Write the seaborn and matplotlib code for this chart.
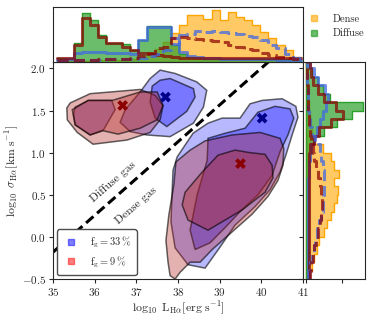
import numpy as np
import pandas as pd
import matplotlib
matplotlib.use("Agg")
import matplotlib.pyplot as plt
from matplotlib.lines import Line2D
from matplotlib.colors import to_rgba
import seaborn as sns


# marginal histogram bins
lum_range = (35.1, 40.95)
lum_nbins = 30
sig_range = (-0.5, 2.1)
sig_nbins = 26
lum_edges = np.linspace(lum_range[0], lum_range[1], lum_nbins + 1)
lum_centers = 0.5 * (lum_edges[1:] + lum_edges[:-1])
sig_edges = np.linspace(sig_range[0], sig_range[1], sig_nbins + 1)
sig_centers = 0.5 * (sig_edges[1:] + sig_edges[:-1])

# top panel (luminosity) counts, arbitrary units
top_dense_all = [1, 1, 1, 1, 1, 2, 2, 2, 3, 3, 5, 9, 13, 20, 29, 37, 47, 47, 43, 52, 42, 50, 45, 42, 37, 30, 24, 17, 12, 5]
top_diffuse_all = [4, 4, 19, 49, 42, 27, 19, 19, 18, 12, 22, 36, 36, 36, 17, 8, 5, 4, 3, 3, 3, 3, 3, 3, 3, 3, 3, 3, 3, 2]
top_diffuse_33 = [2, 3, 9, 10, 10, 10, 9, 9, 9, 8, 22, 35, 35, 35, 24, 10, 6, 5, 4, 4, 3, 3, 3, 3, 3, 3, 3, 2, 2, 2]
top_diffuse_9 = [4, 4, 17, 44, 37, 25, 19, 19, 15, 12, 9, 8, 7, 6, 5, 4, 4, 4, 4, 4, 4, 4, 4, 4, 4, 4, 4, 4, 4, 4]
top_dense_33 = [2, 2, 2, 2, 2, 2, 3, 3, 3, 3, 4, 6, 8, 12, 18, 27, 28, 31, 30, 31, 30, 29, 28, 26, 25, 22, 17, 14, 8, 4]
top_dense_9 = [2, 2, 2, 2, 2, 3, 3, 3, 3, 4, 6, 9, 14, 15, 24, 25, 24, 23, 22, 21, 20, 17, 15, 13, 12, 9, 7, 5, 4, 3]

# right panel (velocity dispersion) counts
rt_dense_all = [4, 6, 9, 12, 14, 19, 22, 26, 29, 32, 33, 29, 34, 29, 26, 18, 10, 6, 5, 4, 3, 2, 2, 1, 1, 0]
rt_diffuse_all = [3, 3, 3, 3, 3, 3, 3, 3, 3, 3, 3, 3, 3, 3, 4, 5, 9, 19, 32, 48, 59, 25, 18, 13, 6, 3]
rt_diffuse_33 = [2, 2, 2, 2, 2, 2, 2, 2, 2, 2, 2, 2, 3, 3, 4, 5, 8, 12, 15, 18, 21, 23, 20, 13, 8, 4]
rt_diffuse_9 = [3, 3, 3, 3, 3, 3, 3, 3, 3, 3, 3, 3, 3, 3, 3, 4, 9, 14, 26, 38, 31, 19, 13, 7, 5, 4]
rt_dense_33 = [3, 4, 6, 8, 10, 12, 14, 16, 18, 18, 19, 19, 19, 18, 16, 15, 10, 6, 4, 3, 2, 2, 2, 1, 1, 1]
rt_dense_9 = [4, 5, 7, 9, 11, 13, 15, 16, 17, 17, 16, 15, 13, 11, 9, 7, 5, 4, 3, 3, 2, 2, 2, 1, 1, 1]

# density contours (outer / inner level)
diff33_outer_x = [37.57, 37.93, 38.45, 38.69, 38.61, 38.37, 37.81, 37.25, 36.85, 36.61, 36.73, 37.09, 37.33]
diff33_outer_y = [1.98, 1.94, 1.84, 1.74, 1.54, 1.35, 1.19, 1.21, 1.25, 1.36, 1.51, 1.72, 1.88]
diff33_lobe_x = [35.53, 35.85, 36.41, 36.49, 36.21, 35.89, 35.53, 35.49]
diff33_lobe_y = [1.54, 1.62, 1.62, 1.51, 1.27, 1.21, 1.33, 1.45]
diff33_inner_x = [37.38, 37.57, 37.81, 38.37, 38.41, 38.21, 37.73, 37.45, 37.33]
diff33_inner_y = [1.79, 1.86, 1.88, 1.76, 1.66, 1.49, 1.31, 1.41, 1.60]
diff9_outer_x = [35.33, 35.41, 35.89, 37.09, 37.45, 37.64, 37.57, 37.33, 36.78, 35.96, 35.58, 35.34]
diff9_outer_y = [1.53, 1.59, 1.70, 1.75, 1.68, 1.56, 1.39, 1.24, 1.15, 1.10, 1.24, 1.39]
diff9_inner_x = [35.46, 35.84, 36.42, 37.09, 37.50, 37.64, 37.50, 37.09, 36.56, 36.20, 35.89, 35.53]
diff9_inner_y = [1.51, 1.62, 1.62, 1.72, 1.72, 1.56, 1.39, 1.29, 1.22, 1.26, 1.21, 1.33]

dens33_outer_x = [37.88, 37.98, 38.36, 38.72, 39.06, 39.49, 39.73, 40.02, 40.50, 40.83, 40.88, 40.74, 40.59, 40.45,
                  40.21, 39.85, 39.37, 39.01, 38.65, 38.24, 37.93, 37.83]
dens33_outer_y = [0.79, 0.95, 1.23, 1.35, 1.41, 1.41, 1.58, 1.62, 1.64, 1.55, 1.42, 1.21, 0.97, 0.77,
                  0.56, 0.36, 0.14, -0.12, -0.37, -0.33, -0.13, 0.18]
dens33_inner_x = [38.70, 38.72, 39.13, 39.61, 39.92, 40.33, 40.69, 40.78, 40.64, 40.45, 40.26, 39.92, 39.49, 39.13,
                  38.77, 38.41, 38.29, 38.46]
dens33_inner_y = [0.91, 1.17, 1.23, 1.29, 1.48, 1.55, 1.52, 1.41, 1.21, 1.01, 0.73, 0.50, 0.30, 0.11,
                  -0.07, -0.15, 0.08, 0.50]
dens9_outer_x = [37.95, 38.29, 38.65, 39.30, 39.97, 40.45, 40.54, 40.52, 40.40, 40.16, 39.78, 39.30, 38.82, 38.53,
                 38.29, 38.05, 37.93, 37.81, 37.76, 37.71, 37.78, 37.90]
dens9_outer_y = [0.89, 1.03, 1.14, 1.21, 1.24, 1.17, 1.05, 0.85, 0.67, 0.48, 0.27, 0.06, -0.15, -0.30,
                 -0.30, -0.42, -0.50, -0.46, -0.30, -0.04, 0.26, 0.62]
dens9_inner_x = [38.17, 38.58, 38.96, 39.37, 39.73, 40.09, 40.26, 40.28, 40.09, 39.54, 38.72, 38.24, 38.10]
dens9_inner_y = [0.53, 0.77, 0.97, 1.03, 1.00, 0.98, 0.85, 0.70, 0.53, 0.32, 0.08, 0.20, 0.38]

# density peaks
peak_lum = [37.70, 36.67, 40.02, 39.50]
peak_sig = [1.66, 1.56, 1.41, 0.87]
peak_run = ["33", "9", "33", "9"]

# dense / diffuse dividing line
divide_x = [35.0, 40.2]
divide_y = [-0.18, 2.09]

blue = "blue"
red = "firebrick"


sns.set_style("ticks")
plt.rcParams["font.family"] = "serif"
plt.rcParams["font.serif"] = ["cmr10"]
plt.rcParams["mathtext.fontset"] = "cm"
plt.rcParams["axes.formatter.use_mathtext"] = True

fig = plt.figure(figsize=(3.74, 3.2), dpi=100)
ax = fig.add_axes([0.142, 0.128, 0.668, 0.678])
ax_top = fig.add_axes([0.142, 0.806, 0.668, 0.172])
ax_right = fig.add_axes([0.811, 0.128, 0.165, 0.678])


# contours
def region(xs, ys, color, alpha):
    ax.fill(xs, ys, facecolor=to_rgba(color, alpha), edgecolor=(0, 0, 0, 0.6), lw=1.1)


region(dens33_outer_x, dens33_outer_y, blue, 0.28)
region(dens33_inner_x, dens33_inner_y, blue, 0.35)
region(dens9_outer_x, dens9_outer_y, red, 0.35)
region(dens9_inner_x, dens9_inner_y, red, 0.36)
region(diff33_outer_x, diff33_outer_y, blue, 0.28)
region(diff33_lobe_x, diff33_lobe_y, blue, 0.28)
region(diff33_inner_x, diff33_inner_y, blue, 0.35)
region(diff9_outer_x, diff9_outer_y, red, 0.35)
region(diff9_inner_x, diff9_inner_y, red, 0.36)

peaks = pd.DataFrame({"lum": peak_lum, "sig": peak_sig, "run": peak_run})
sns.scatterplot(data=peaks, x="lum", y="sig", hue="run", palette={"33": "darkblue", "9": "darkred"},
                marker="X", s=60, linewidth=0, legend=False, ax=ax, zorder=5)

ax.plot(divide_x, divide_y, color="k", lw=2.2, ls=(0, (3.2, 1.6)))
ax.text(36.43, 0.655, "Diffuse gas", rotation=41, ha="center", va="center", fontsize=8.5)
ax.text(36.99, 0.37, "Dense gas", rotation=41, ha="center", va="center", fontsize=8.5)

ax.set_xlim(35, 41)
ax.set_ylim(-0.5, 2.075)
ax.set_xticks([35, 36, 37, 38, 39, 40, 41])
ax.set_yticks([-0.5, 0.0, 0.5, 1.0, 1.5, 2.0])
ax.tick_params(labelsize=8, length=3, pad=2)
ax.set_xlabel(r"$\log_{10}\ \mathrm{L_{H\alpha}[erg\ s^{-1}]}$", fontsize=8.5, labelpad=1)
ax.set_ylabel(r"$\log_{10}\ \sigma_{\mathrm{H\alpha}}[\mathrm{km\ s^{-1}}]$", fontsize=8.5, labelpad=1)

handles = [Line2D([], [], marker="s", ls="", color=blue, alpha=0.5, ms=4.5),
           Line2D([], [], marker="s", ls="", color="red", alpha=0.5, ms=4.5)]
ax.legend(handles, [r"$\mathrm{f_g} = 33\,\%$", r"$\mathrm{f_g} = 9\,\%$"], loc="lower left",
          fontsize=7.5, handletextpad=1.0, handlelength=1.6, borderpad=0.5, labelspacing=0.4,
          borderaxespad=0.4, frameon=True, edgecolor="0.3", framealpha=1, fancybox=True)


# marginals
def hist_top(vals, color, fill, alpha, ls="-", lw=1.0):
    df = pd.DataFrame({"lum": lum_centers, "w": vals})
    sns.histplot(data=df, x="lum", weights="w", bins=lum_nbins, binrange=lum_range, element="step",
                 fill=fill, color=color, alpha=alpha, linestyle=ls, linewidth=lw, ax=ax_top)


def hist_right(vals, color, fill, alpha, ls="-", lw=1.0):
    df = pd.DataFrame({"sig": sig_centers, "w": vals})
    sns.histplot(data=df, y="sig", weights="w", bins=sig_nbins, binrange=sig_range, element="step",
                 fill=fill, color=color, alpha=alpha, linestyle=ls, linewidth=lw, ax=ax_right)


hist_top(top_dense_all, "orange", True, 0.6)
hist_top(top_diffuse_all, "tab:green", True, 0.7)
hist_top(top_diffuse_33, "royalblue", False, 0.75, lw=2.2)
hist_top(top_diffuse_9, "darkred", False, 0.7, lw=2.2)
hist_top(top_dense_33, "royalblue", False, 0.75, ls="--", lw=2.2)
hist_top(top_dense_9, "darkred", False, 0.7, ls="--", lw=2.2)

hist_right(rt_dense_all, "orange", True, 0.6)
hist_right(rt_diffuse_all, "tab:green", True, 0.7)
hist_right(rt_diffuse_33, "royalblue", False, 0.75, lw=2.2)
hist_right(rt_diffuse_9, "darkred", False, 0.7, lw=2.2)
hist_right(rt_dense_33, "royalblue", False, 0.75, ls="--", lw=2.2)
hist_right(rt_dense_9, "darkred", False, 0.7, ls="--", lw=2.2)

ax_top.set_xlim(35, 41)
ax_top.set_ylim(0, 55)
ax_top.set_xlabel("")
ax_top.set_ylabel("")
ax_top.tick_params(bottom=False, left=False, labelbottom=False, labelleft=False)

ax_right.set_ylim(-0.5, 2.075)
ax_right.set_xlim(-2.5, 61)
ax_right.set_xticks([0, 37])
ax_right.set_yticks([-0.5, 0.0, 0.5, 1.0, 1.5, 2.0])
ax_right.set_xlabel("")
ax_right.set_ylabel("")
ax_right.tick_params(labelbottom=False, labelleft=False, length=3)

top_handles = [Line2D([], [], marker="s", ls="", color="orange", alpha=0.6, ms=4.5),
               Line2D([], [], marker="s", ls="", color="tab:green", alpha=0.7, ms=4.5)]
fig.legend(top_handles, ["Dense", "Diffuse"], loc="upper left", bbox_to_anchor=(0.795, 0.985),
           frameon=False, fontsize=7.5, handletextpad=1.1, handlelength=1.4, labelspacing=0.5)

fig.savefig("out.png", dpi=100)
